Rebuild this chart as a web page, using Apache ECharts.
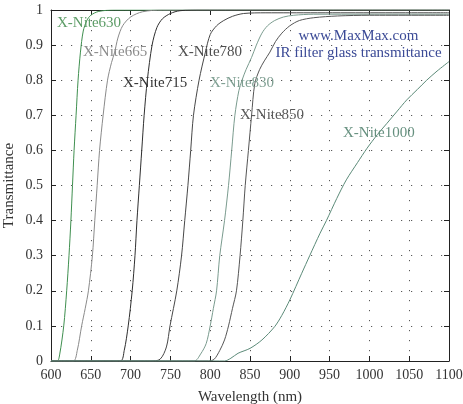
<!DOCTYPE html>
<html>
<head>
<meta charset="utf-8">
<script src="https://cdn.jsdelivr.net/npm/echarts@6/dist/echarts.min.js"></script>
<style>html,body{margin:0;padding:0;background:#fff}#c{width:463px;height:404px}</style>
</head>
<body>
<div id="c"></div>
<script>
// Wavelength (nm) and transmittance samples
const wl630 = [600, 608, 611, 616, 619.7, 622.6, 625, 627, 629, 631.5, 634, 637, 640.5, 645, 650, 660, 680, 1100];
const tr630 = [0, 0, 0.02, 0.1, 0.2, 0.3, 0.4, 0.5, 0.6, 0.7, 0.8, 0.88, 0.94, 0.97, 0.985, 0.996, 1, 1];

const wl665 = [600, 628, 633, 638.5, 643, 647, 652, 655, 658, 661, 665.5, 671, 676, 680, 684, 690, 700, 715, 740, 1100];
const tr665 = [0, 0, 0.03, 0.1, 0.15, 0.2, 0.3, 0.4, 0.5, 0.6, 0.7, 0.8, 0.85, 0.88, 0.92, 0.955, 0.98, 0.995, 1, 1];

const wl715 = [600, 687, 692, 697, 702, 705.5, 708, 711, 714, 717, 721, 727, 733, 740, 750, 762, 790, 1100];
const tr715 = [0, 0, 0.03, 0.1, 0.2, 0.3, 0.4, 0.5, 0.6, 0.7, 0.8, 0.9, 0.95, 0.975, 0.99, 0.998, 1, 1];

const wl780 = [600, 725, 737, 745, 749.5, 758, 764, 768, 772, 775.5, 779, 786, 794, 800, 808, 817, 828, 842, 870, 1100];
const tr780 = [0, 0, 0.005, 0.04, 0.1, 0.2, 0.3, 0.4, 0.5, 0.6, 0.7, 0.8, 0.88, 0.93, 0.955, 0.97, 0.982, 0.99, 0.992, 0.992];

const wl830 = [600, 780, 788, 795, 800, 804, 808, 812, 818, 823, 827, 831, 836, 840, 845, 852, 858, 865, 872, 881, 892, 905, 930, 1000, 1100];
const tr830 = [0, 0, 0.02, 0.05, 0.1, 0.15, 0.2, 0.3, 0.4, 0.5, 0.6, 0.7, 0.77, 0.8, 0.83, 0.865, 0.9, 0.934, 0.955, 0.97, 0.98, 0.985, 0.988, 0.988, 0.988];

const wl850 = [600, 798, 805, 812, 818, 823, 828, 833, 837.5, 841, 844, 848, 852, 856, 862, 868, 875, 882, 890, 900, 912, 930, 960, 1000, 1100];
const tr850 = [0, 0, 0.005, 0.03, 0.06, 0.1, 0.15, 0.2, 0.3, 0.4, 0.5, 0.6, 0.7, 0.79, 0.83, 0.855, 0.88, 0.91, 0.934, 0.955, 0.97, 0.978, 0.983, 0.985, 0.985];

const wl1000 = [600, 818, 826, 835, 850, 865, 881, 890, 900, 915, 925, 938, 946, 959, 971, 985, 997, 1010, 1022, 1035, 1047, 1060, 1072, 1085, 1100];
const tr1000 = [0, 0, 0.008, 0.022, 0.036, 0.06, 0.098, 0.13, 0.174, 0.25, 0.30, 0.364, 0.40, 0.463, 0.516, 0.565, 0.606, 0.645, 0.677, 0.712, 0.744, 0.773, 0.80, 0.826, 0.853];

const seriesNames = ['X-Nite630', 'X-Nite665', 'X-Nite715', 'X-Nite780', 'X-Nite830', 'X-Nite850', 'X-Nite1000'];
const xTicks = [600, 1100, 50];
const yTicks = [0, 1, 0.1];

// Annotation anchors in data coordinates [wavelength, transmittance]
const labelAnchors = [
  [607.5, 0.963], [640.2, 0.880], [690.5, 0.792], [759.5, 0.880],
  [799.7, 0.792], [837.4, 0.701], [966.8, 0.650]
];
const titleLines = ['www.MaxMax.com', 'IR filter glass transmittance'];
const titleAnchors = [[986.3, 0.926], [986.3, 0.877]];

const lineColors = ['#3f8f4f', '#8a8a8a', '#2e2e2e', '#474747', '#7a9b8e', '#555555', '#5b8a78'];
const textColors = ['#5c9c66', '#8c8c8c', '#353535', '#4d4d4d', '#7f9f92', '#595959', '#66907f'];
const FONT = '"Liberation Serif", "DejaVu Serif", serif';

const wls = [wl630, wl665, wl715, wl780, wl830, wl850, wl1000];
const trs = [tr630, tr665, tr715, tr780, tr830, tr850, tr1000];

const chart = echarts.init(document.getElementById('c'), null, {renderer: 'canvas'});

const gridLine = {show: true, lineStyle: {color: '#5a5a5a', width: 1, type: [1.2, 8.8]}};
const axisLine = {show: true, onZero: false, lineStyle: {color: '#222', width: 1}};
const plainNum = v => String(Math.round(v * 1000) / 1000);

const series = seriesNames.map((n, i) => ({
  name: n,
  type: 'line',
  xAxisIndex: 0,
  yAxisIndex: 0,
  data: wls[i].map((w, k) => [w, trs[i][k]]),
  showSymbol: false,
  smooth: 0.3,
  lineStyle: {color: lineColors[i], width: 1},
  silent: true,
  z: 3
}));

chart.setOption({
  animation: false,
  backgroundColor: '#fff',
  grid: {left: 51, right: 14, top: 10, bottom: 43, containLabel: false, outerBoundsMode: 'none'},
  xAxis: [{
    type: 'value', min: xTicks[0], max: xTicks[1], interval: xTicks[2],
    position: 'bottom',
    name: 'Wavelength (nm)', nameLocation: 'middle', nameGap: 29, nameMoveOverlap: false,
    nameTextStyle: {fontFamily: FONT, fontSize: 15, color: '#333'},
    axisLine: axisLine,
    axisTick: {show: true, inside: true, length: 5, lineStyle: {color: '#222'}},
    axisLabel: {fontFamily: FONT, fontSize: 14, color: '#333', margin: 7, formatter: plainNum, hideOverlap: false},
    splitLine: gridLine
  }, {
    type: 'value', min: xTicks[0], max: xTicks[1], interval: xTicks[2],
    position: 'top',
    axisLine: axisLine,
    axisTick: {show: true, inside: true, length: 5, lineStyle: {color: '#222'}},
    axisLabel: {show: false},
    splitLine: {show: false}
  }],
  yAxis: [{
    type: 'value', min: yTicks[0], max: yTicks[1], interval: yTicks[2],
    position: 'left',
    name: 'Transmittance', nameLocation: 'middle', nameGap: 34, nameMoveOverlap: false,
    nameTextStyle: {fontFamily: FONT, fontSize: 15, color: '#333'},
    axisLine: axisLine,
    axisTick: {show: true, inside: true, length: 5, lineStyle: {color: '#222'}},
    axisLabel: {fontFamily: FONT, fontSize: 14, color: '#333', margin: 8, formatter: plainNum},
    splitLine: gridLine
  }, {
    type: 'value', min: yTicks[0], max: yTicks[1], interval: yTicks[2],
    position: 'right',
    axisLine: axisLine,
    axisTick: {show: true, inside: true, length: 5, lineStyle: {color: '#222'}},
    axisLabel: {show: false},
    splitLine: {show: false}
  }],
  series: series
});

function place() {
  const els = [];
  seriesNames.forEach((n, i) => {
    const p = chart.convertToPixel({xAxisIndex: 0, yAxisIndex: 0}, labelAnchors[i]);
    els.push({type: 'text', x: p[0], y: p[1], z: 10, silent: true,
      style: {text: n, fontFamily: FONT, fontSize: 15, fill: textColors[i], align: 'left', verticalAlign: 'middle'}});
  });
  titleLines.forEach((t, i) => {
    const p = chart.convertToPixel({xAxisIndex: 0, yAxisIndex: 0}, titleAnchors[i]);
    els.push({type: 'text', x: p[0], y: p[1], z: 10, silent: true,
      style: {text: t, fontFamily: FONT, fontSize: 15, fill: '#3b4a96', align: 'center', verticalAlign: 'middle'}});
  });
  chart.setOption({graphic: els});
}
place();
</script>
</body>
</html>
